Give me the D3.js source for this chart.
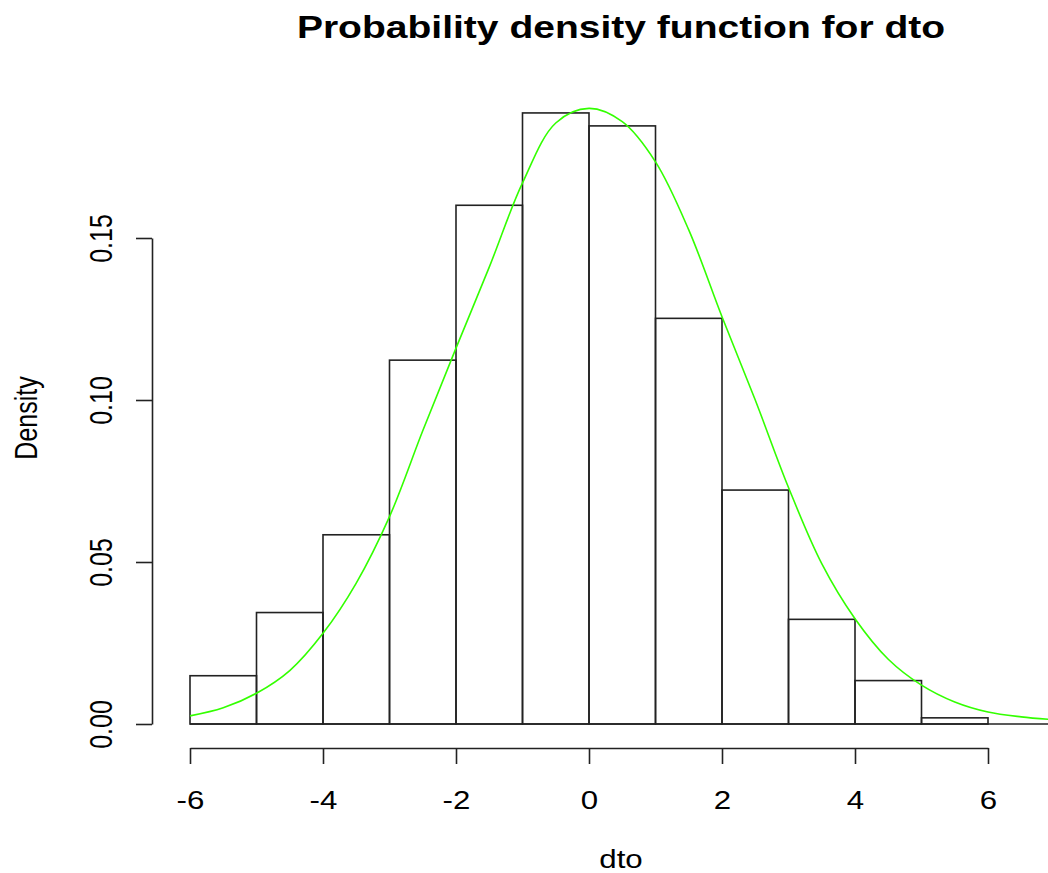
<!DOCTYPE html>
<html>
<head>
<meta charset="utf-8">
<script src="https://cdn.jsdelivr.net/npm/d3@7"></script>
<style>
  html, body { margin: 0; padding: 0; background: #fff; }
  svg { display: block; font-family: "Liberation Sans", Arial, sans-serif; }
</style>
</head>
<body>
<div class="chart"></div>
<script>
// histogram bins (left edges, width 1) and densities
const binStarts = [-6, -5, -4, -3, -2, -1, 0, 1, 2, 3, 4, 5];
const binDensity = [0.0149, 0.0344, 0.0584, 0.1123, 0.1601, 0.1886, 0.1846, 0.1252, 0.0722, 0.0323, 0.0134, 0.0019];

// green density curve
const curveX = [-6, -5.5, -5, -4.5, -4, -3.5, -3, -2.5, -2, -1.5, -1, -0.5, 0, 0.5, 1, 1.5, 2, 2.5, 3, 3.5, 4, 4.5, 5, 5.5, 6, 6.5, 7];
const curveY = [0.0025, 0.0050, 0.0095, 0.0165, 0.0280, 0.0435, 0.0640, 0.0905, 0.1160, 0.1410, 0.1670, 0.1855, 0.1900, 0.1859, 0.1735, 0.1525, 0.1257, 0.1000, 0.0730, 0.0495, 0.0325, 0.0200, 0.0120, 0.0068, 0.0037, 0.0022, 0.0013];

const xTicks = [-6, -4, -2, 0, 2, 4, 6];
const yTicks = [0, 0.05, 0.10, 0.15];

const title = 'Probability density function for dto';
const xLabel = 'dto';
const yLabel = 'Density';

function app() {
  const W = 1048;
  const H = 873;
  const SX = 1.25; // picture is stretched sideways

  const x = d3.scaleLinear().domain([-6, 6]).range([190, 988]);
  const y = d3.scaleLinear().domain([0, 0.15]).range([724, 238]);

  const svg = d3.select('.chart')
    .append('svg')
    .attr('width', W)
    .attr('height', H);

  // bars
  svg.selectAll('rect.bar')
    .data(binStarts)
    .enter()
    .append('rect')
    .attr('class', 'bar')
    .attr('x', (d) => x(d))
    .attr('y', (d, i) => y(binDensity[i]))
    .attr('width', (d) => x(d + 1) - x(d))
    .attr('height', (d, i) => y(0) - y(binDensity[i]))
    .attr('fill', 'none')
    .attr('stroke', '#222')
    .attr('stroke-width', 1.6);

  // zero line continues past the last bar
  svg.append('line')
    .attr('x1', x(-6)).attr('x2', W)
    .attr('y1', y(0)).attr('y2', y(0))
    .attr('stroke', '#222')
    .attr('stroke-width', 1.6);

  // density curve
  const line = d3.line()
    .x((d, i) => x(curveX[i]))
    .y((d) => y(d))
    .curve(d3.curveCatmullRom);

  svg.append('path')
    .datum(curveY)
    .attr('d', line)
    .attr('fill', 'none')
    .attr('stroke', '#33ff00')
    .attr('stroke-width', 1.6);

  // x axis
  const gx = svg.append('g')
    .attr('transform', 'translate(0,748)')
    .call(d3.axisBottom(x).tickValues(xTicks).tickSize(16).tickSizeOuter(0).tickFormat((d) => String(d)));

  gx.selectAll('text')
    .attr('y', 0)
    .attr('dy', 0)
    .attr('transform', `translate(0,61) scale(${SX},1)`)
    .attr('font-size', 25)
    .attr('fill', '#000');

  // y axis
  const gy = svg.append('g')
    .attr('transform', 'translate(152,0)')
    .call(d3.axisLeft(y).tickValues(yTicks).tickSize(16).tickSizeOuter(0).tickFormat(d3.format('.2f')));

  gy.selectAll('text')
    .attr('x', 0)
    .attr('dy', 0)
    .attr('text-anchor', 'middle')
    .attr('transform', `translate(-40,0) scale(${SX},1) rotate(-90)`)
    .attr('font-size', 25)
    .attr('fill', '#000');

  svg.selectAll('.domain, .tick line')
    .attr('stroke', '#222')
    .attr('stroke-width', 1.6);

  // titles
  svg.append('text')
    .attr('transform', 'translate(621,38) scale(1.28,1)')
    .attr('text-anchor', 'middle')
    .attr('font-size', 30.5)
    .attr('font-weight', 'bold')
    .text(title);

  svg.append('text')
    .attr('transform', `translate(621,868) scale(${SX},1)`)
    .attr('text-anchor', 'middle')
    .attr('font-size', 25)
    .text(xLabel);

  svg.append('text')
    .attr('transform', `translate(37,418) scale(${SX},1) rotate(-90)`)
    .attr('text-anchor', 'middle')
    .attr('font-size', 25)
    .text(yLabel);
}

app();
</script>
</body>
</html>
